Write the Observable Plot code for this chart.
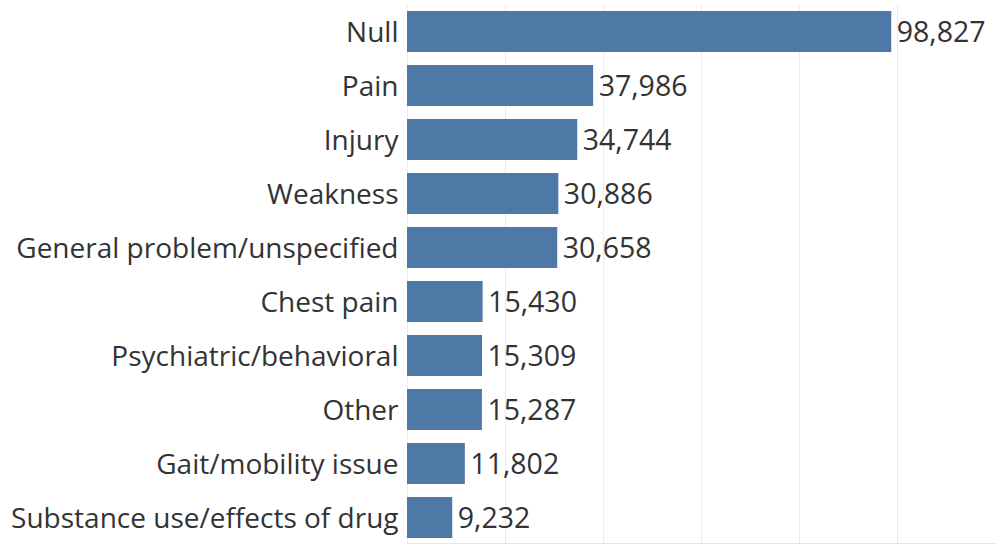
<!DOCTYPE html>
<html><head><meta charset="utf-8">
<script src="https://cdn.jsdelivr.net/npm/d3@7"></script>
<script src="https://cdn.jsdelivr.net/npm/@observablehq/plot@0.6"></script>
<style>html,body{margin:0;padding:0;background:#fff;}</style>
</head><body><div id="chart"></div>
<script>
const categories = ["Null","Pain","Injury","Weakness","General problem/unspecified","Chest pain","Psychiatric/behavioral","Other","Gait/mobility issue","Substance use/effects of drug"];
const counts = [98827,37986,34744,30886,30658,15430,15309,15287,11802,9232];
const xTicks = [0,20000,40000,60000,80000,100000];
const data = categories.map((c,i)=>({category:c, count:counts[i]}));
const fmt = d3.format(",");
const chart = Plot.plot({
  width: 997, height: 548,
  marginLeft: 407, marginRight: 2, marginTop: 5, marginBottom: 5,
  style: {fontFamily: "Open Sans", fontSize: "24px", color: "#333", background: "#fff"},
  x: {domain: [0,120000], axis: null},
  y: {domain: categories, paddingInner: 0.245, paddingOuter: 0.08, axis: null},
  marks: [
    Plot.ruleX(xTicks, {stroke: "#ebebeb", strokeWidth: 1, strokeOpacity: 1}),
    Plot.frame({anchor: "bottom", stroke: "#e6e6e6", strokeOpacity: 1}),
    Plot.barX(data, {x: "count", y: "category", fill: "#4e79a7"}),
    Plot.text(data, {x: "count", y: "category", text: d => fmt(d.count), textAnchor: "start", dx: 5, dy: 1, fill: "#333", fontSize: 28.5}),
    Plot.text(data, {x: 0, y: "category", text: "category", textAnchor: "end", dx: -9, dy: 1, fill: "#333", fontSize: 28})
  ]
});
document.getElementById("chart").appendChild(chart);
</script></body></html>
